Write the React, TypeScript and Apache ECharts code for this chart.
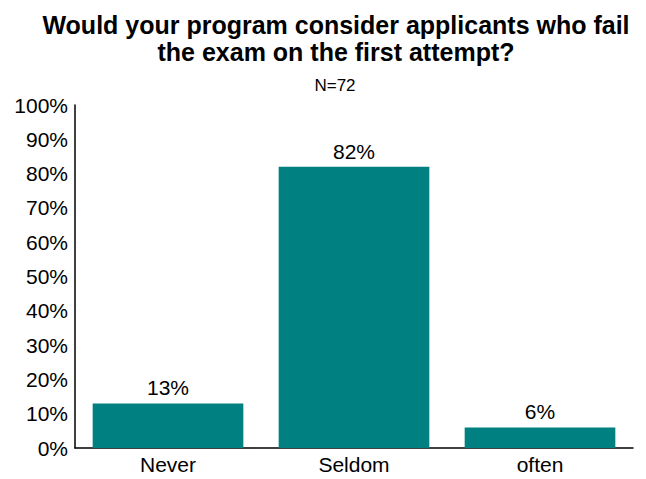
import React, { useEffect, useRef } from "react";
import * as echarts from "echarts";

const categories = ["Never", "Seldom", "often"];
const values = [13, 82, 6];
const yTicks = [0, 10, 20, 30, 40, 50, 60, 70, 80, 90, 100];

export default function App() {
  const ref = useRef<HTMLDivElement>(null);
  useEffect(() => {
    const chart = echarts.init(ref.current!, null, { renderer: "svg" });
    const font = "'Liberation Sans', Arial, sans-serif";
    chart.setOption({
      animation: false,
      backgroundColor: "#ffffff",
      title: [
        {
          text: "Would your program consider applicants who fail\nthe exam on the first attempt?",
          left: 331,
          textAlign: "center",
          top: 6,
          textStyle: { fontFamily: font, fontSize: 25, fontWeight: "bold", color: "#000", lineHeight: 27 },
        },
        {
          text: "N=72",
          left: 330,
          textAlign: "center",
          top: 72,
          textStyle: { fontFamily: font, fontSize: 17, fontWeight: "normal", color: "#000" },
        },
      ],
      grid: { left: 75, right: 13, top: 105, bottom: 31 },
      xAxis: {
        type: "category",
        data: categories,
        axisLine: { lineStyle: { color: "#000", width: 1.5 } },
        axisTick: { show: false },
        axisLabel: { fontFamily: font, fontSize: 21, color: "#000", margin: 6 },
      },
      yAxis: {
        type: "value",
        min: 0,
        max: 100,
        interval: 10,
        axisLine: { show: true, lineStyle: { color: "#000", width: 1.5 } },
        axisTick: { show: false },
        splitLine: { show: false },
        axisLabel: {
          fontFamily: font,
          fontSize: 21,
          color: "#000",
          margin: 7,
          formatter: (v: number) => (yTicks.includes(v) ? v + "%" : ""),
        },
      },
      series: [
        {
          type: "bar",
          data: values,
          barCategoryGap: "19%",
          itemStyle: { color: "#008080" },
          label: {
            show: true,
            position: "top",
            distance: 5,
            fontFamily: font,
            fontSize: 21,
            color: "#000",
            formatter: (p: any) => p.value + "%",
          },
        },
      ],
    });
    return () => chart.dispose();
  }, []);
  return (
    <div
      ref={ref}
      style={{ position: "absolute", left: 0, top: 0, width: 646, height: 479 }}
    />
  );
}
